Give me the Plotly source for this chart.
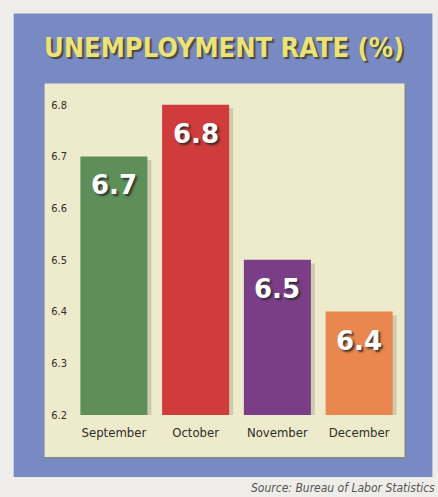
import plotly.graph_objects as go

months = ["September", "October", "November", "December"]
rates = [6.7, 6.8, 6.5, 6.4]
bar_colors = ["#5e8f58", "#d03b3b", "#7a3e87", "#e9874e"]
y_ticks = [6.2, 6.3, 6.4, 6.5, 6.6, 6.7, 6.8]
y_tick_text = ["6.2", "6.3", "6.4", "6.5", "6.6", "6.7", "6.8"]
title_text = "UNEMPLOYMENT RATE (%)"
source_text = "Source: Bureau of Labor Statistics"

W, H = 438, 497
ML, MR, MT, MB = 72.5, 37.5, 83.5, 82
pw = W - ML - MR
ph = H - MT - MB


def px_x(x):
    return (x - ML) / pw


def px_y(y):
    return (H - MB - y) / ph


fig = go.Figure()

# soft drop shadow behind bars
fig.add_trace(go.Bar(
    x=months, y=[r - 0.007 for r in rates], width=0.82, offset=-0.41 + 4 / 82,
    marker=dict(color="rgba(90,90,70,0.22)", line=dict(width=0)),
    hoverinfo="skip", showlegend=False,
))
fig.add_trace(go.Bar(
    x=months, y=rates, width=0.82,
    marker=dict(color=bar_colors, line=dict(width=0)),
    showlegend=False,
))

for m, r in zip(months, rates):
    fig.add_annotation(
        x=m, y=r, text=f"{r}", showarrow=False, yanchor="top", yshift=-12,
        font=dict(family="DejaVu Sans", size=26, color="white", weight="bold",
                  shadow="2px 2px 2px rgba(40,40,40,0.85)"),
    )

fig.add_annotation(
    xref="paper", yref="paper", x=px_x(224), y=px_y(47), text=title_text,
    showarrow=False, xanchor="center", yanchor="middle",
    font=dict(family="DejaVu Sans Condensed", size=27, color="#ebe27a", weight="bold",
              shadow="2px 2px 1px #4a4a3a"),
)
fig.add_annotation(
    xref="paper", yref="paper", x=px_x(438), y=px_y(488), text=source_text,
    showarrow=False, xanchor="right", yanchor="middle",
    font=dict(family="DejaVu Sans Condensed", size=12, color="#555555", style="italic"),
)

shapes = [
    # blue frame
    dict(type="rect", xref="paper", yref="paper", layer="below",
         x0=px_x(13), x1=px_x(433), y0=px_y(477), y1=px_y(13),
         fillcolor="#7889c4", line=dict(width=0)),
    # cream panel shadow
    dict(type="rect", xref="paper", yref="paper", layer="below",
         x0=px_x(45), x1=px_x(406.5), y0=px_y(458.5), y1=px_y(84),
         fillcolor="#7f8a86", line=dict(width=0)),
    # cream panel
    dict(type="rect", xref="paper", yref="paper", layer="below",
         x0=px_x(44), x1=px_x(405), y0=px_y(457), y1=px_y(83),
         fillcolor="#eeebcc", line=dict(width=0)),
]

fig.update_layout(
    width=W, height=H,
    margin=dict(l=ML, r=MR, t=MT, b=MB, pad=0),
    paper_bgcolor="#eeede9", plot_bgcolor="rgba(0,0,0,0)",
    barmode="overlay", bargap=0.18,
    shapes=shapes,
    xaxis=dict(showgrid=False, zeroline=False, showline=False, ticks="",
               ticklabelstandoff=8, fixedrange=True,
               tickfont=dict(family="DejaVu Sans Condensed", size=13, color="#2e2e26")),
    yaxis=dict(range=[6.2, 6.84], tickvals=y_ticks, ticktext=y_tick_text,
               showgrid=False, zeroline=False, showline=False, ticks="",
               ticklabelstandoff=5, fixedrange=True,
               tickfont=dict(family="DejaVu Sans Condensed", size=11, color="#2e2e26")),
)

fig.write_html("out.html")
